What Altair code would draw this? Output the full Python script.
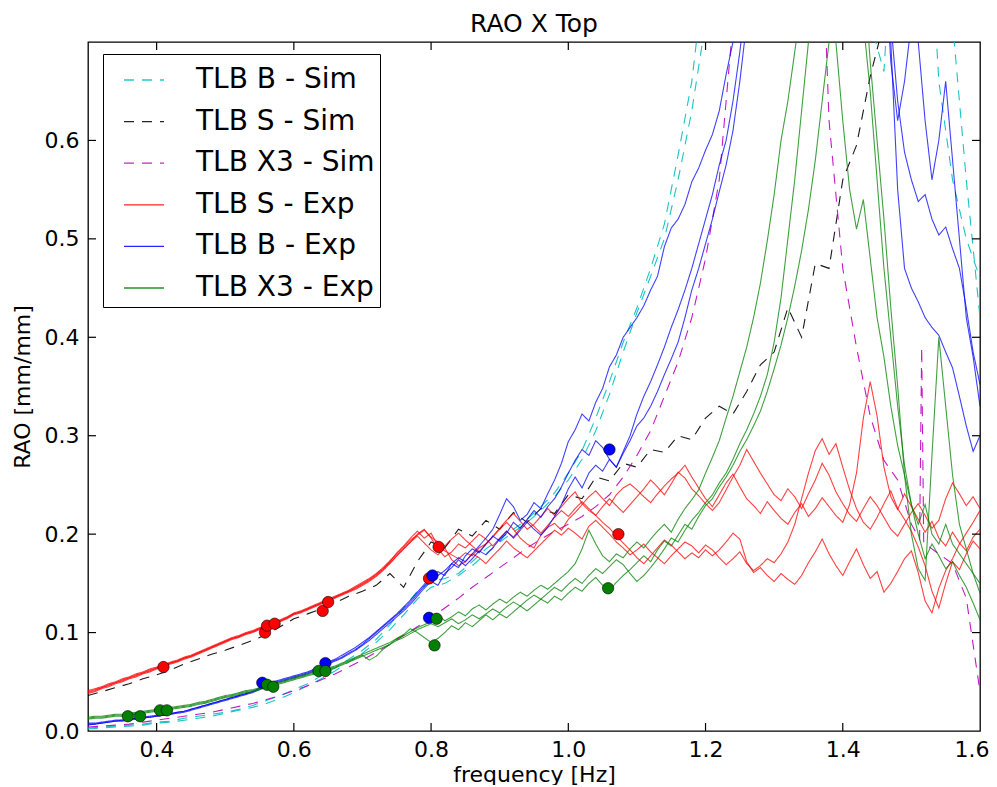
import altair as alt
import pandas as pd

# ---------------- data ----------------
EXP_FREQ = [round(0.30 + 0.01 * i, 2) for i in range(131)]
SIM_FREQ = [round(0.30 + 0.02 * i, 2) for i in range(66)]

SERIES = ["TLB B - Sim", "TLB S - Sim", "TLB X3 - Sim",
          "TLB S - Exp", "TLB B - Exp", "TLB X3 - Exp"]
COLORS = ["#00bfbf", "#000000", "#bf00bf", "#ff0000", "#0000ff", "#008000"]

# --- simulations (0.02 Hz grid) ---
SIM_B1 = [0.003, 0.004, 0.005, 0.006, 0.007, 0.009, 0.010, 0.013, 0.015, 0.017,
          0.019, 0.022, 0.026, 0.031, 0.036, 0.042, 0.048, 0.056, 0.064, 0.073,
          0.082, 0.093, 0.108, 0.125, 0.142, 0.152, 0.155, 0.160, 0.172, 0.185,
          0.195, 0.205, 0.215, 0.228, 0.242, 0.262, 0.285, 0.318, 0.355, 0.395,
          0.430, 0.470, 0.515, 0.585, 0.660, 0.780, 0.950, 1.200, 1.500, 1.500,
          1.500, 1.500, 1.500, 1.500, 1.500, 1.500, 1.500, 1.500, 1.500, 1.500,
          1.200, 0.900, 0.660, 0.560, 0.500, 0.460]
SIM_B2 = [0.002, 0.003, 0.004, 0.005, 0.006, 0.008, 0.009, 0.011, 0.013, 0.015,
          0.018, 0.021, 0.024, 0.028, 0.033, 0.039, 0.046, 0.053, 0.061, 0.070,
          0.079, 0.090, 0.103, 0.118, 0.134, 0.146, 0.150, 0.158, 0.168, 0.180,
          0.192, 0.202, 0.212, 0.224, 0.238, 0.255, 0.276, 0.305, 0.342, 0.385,
          0.425, 0.462, 0.500, 0.560, 0.630, 0.720, 0.900, 1.200, 1.200, 1.200,
          1.200, 1.200, 1.200, 1.200, 1.200, 1.200, 1.200, 0.720, 0.670, 0.900,
          1.200, 1.200, 1.000, 0.720, 0.560, 0.420]
SIM_S = [0.036, 0.040, 0.044, 0.048, 0.053, 0.057, 0.062, 0.068, 0.073, 0.078,
         0.082, 0.087, 0.092, 0.098, 0.106, 0.114, 0.119, 0.124, 0.130, 0.137,
         0.142, 0.148, 0.160, 0.146, 0.172, 0.192, 0.186, 0.205, 0.198, 0.214,
         0.205, 0.222, 0.212, 0.226, 0.221, 0.240, 0.236, 0.258, 0.254, 0.272,
         0.268, 0.286, 0.283, 0.300, 0.296, 0.318, 0.330, 0.322, 0.345, 0.372,
         0.385, 0.430, 0.400, 0.475, 0.470, 0.560, 0.595, 0.665, 0.720, 0.850,
         1.000, 1.000, 1.000, 1.000, 1.000, 1.000]
SIM_X3 = [0.004, 0.005, 0.006, 0.007, 0.009, 0.011, 0.013, 0.015, 0.017, 0.019,
          0.022, 0.025, 0.028, 0.032, 0.036, 0.041, 0.046, 0.052, 0.058, 0.065,
          0.072, 0.080, 0.088, 0.097, 0.106, 0.115, 0.125, 0.135, 0.146, 0.156,
          0.166, 0.176, 0.186, 0.195, 0.203, 0.210, 0.218, 0.228, 0.240, 0.258,
          0.280, 0.305, 0.340, 0.375, 0.420, 0.480, 0.560, 0.720, 0.850, 0.950,
          1.100, 1.300, 1.200, 1.000, 0.620, 0.470, 0.390, 0.320, 0.275, 0.255,
          0.210, 0.190, 0.180, 0.170, 0.135, 0.040]
SIM_X3_SPIKE_FREQ = [1.512, 1.515, 1.518]
SIM_X3_SPIKE = [0.195, 0.390, 0.190]

# --- experiments (0.01 Hz grid) ---
EXP_S1 = [0.040, 0.042, 0.044, 0.047, 0.049, 0.052, 0.054, 0.057, 0.059, 0.062, 0.064,
          0.066, 0.069, 0.071, 0.074, 0.076, 0.079, 0.082, 0.085, 0.088, 0.091,
          0.094, 0.096, 0.099, 0.101, 0.104, 0.106, 0.109, 0.112, 0.115, 0.119,
          0.121, 0.124, 0.127, 0.130, 0.133, 0.136, 0.139, 0.142, 0.145, 0.149,
          0.153, 0.158, 0.164, 0.172, 0.181, 0.188, 0.196, 0.203, 0.196, 0.201,
          0.188, 0.183, 0.179, 0.175, 0.181, 0.178, 0.186, 0.190, 0.197, 0.205,
          0.212, 0.205, 0.196, 0.190, 0.186, 0.199, 0.207, 0.211, 0.204, 0.215,
          0.222, 0.230, 0.238, 0.244, 0.236, 0.229, 0.240, 0.247, 0.251, 0.245,
          0.238, 0.232, 0.241, 0.249, 0.256, 0.262, 0.270, 0.258, 0.247, 0.236,
          0.228, 0.240, 0.252, 0.261, 0.248, 0.236, 0.229, 0.221, 0.233, 0.224,
          0.216, 0.210, 0.222, 0.231, 0.218, 0.226, 0.237, 0.228, 0.219, 0.212,
          0.230, 0.262, 0.318, 0.355, 0.320, 0.268, 0.238, 0.225, 0.241, 0.228,
          0.215, 0.202, 0.213, 0.196, 0.188, 0.202, 0.191, 0.183, 0.197, 0.205]
EXP_S2 = [0.038, 0.040, 0.043, 0.045, 0.048, 0.050, 0.053, 0.055, 0.058, 0.060, 0.063,
          0.065, 0.068, 0.070, 0.073, 0.075, 0.078, 0.081, 0.084, 0.087, 0.090,
          0.093, 0.095, 0.098, 0.100, 0.103, 0.105, 0.108, 0.111, 0.114, 0.118,
          0.120, 0.123, 0.126, 0.129, 0.132, 0.135, 0.138, 0.141, 0.144, 0.148,
          0.152, 0.157, 0.163, 0.170, 0.178, 0.185, 0.192, 0.198, 0.191, 0.184,
          0.179, 0.186, 0.174, 0.168, 0.172, 0.180, 0.176, 0.170, 0.178, 0.185,
          0.193, 0.186, 0.181, 0.176, 0.183, 0.190, 0.197, 0.204, 0.199, 0.206,
          0.201, 0.195, 0.208, 0.214, 0.207, 0.200, 0.192, 0.186, 0.179, 0.184,
          0.190, 0.182, 0.176, 0.170, 0.178, 0.185, 0.192, 0.188, 0.181, 0.189,
          0.184, 0.176, 0.169, 0.175, 0.182, 0.170, 0.163, 0.168, 0.175, 0.171,
          0.180, 0.192, 0.210, 0.236, 0.262, 0.285, 0.297, 0.281, 0.292, 0.268,
          0.245, 0.226, 0.212, 0.205, 0.217, 0.231, 0.244, 0.226, 0.215, 0.203,
          0.187, 0.168, 0.142, 0.125, 0.150, 0.172, 0.164, 0.180, 0.193, 0.185]
EXP_S3 = [0.041, 0.043, 0.045, 0.048, 0.050, 0.053, 0.055, 0.058, 0.060, 0.063, 0.065,
          0.067, 0.070, 0.072, 0.075, 0.077, 0.080, 0.083, 0.086, 0.089, 0.092,
          0.095, 0.097, 0.100, 0.102, 0.105, 0.107, 0.110, 0.113, 0.116, 0.120,
          0.122, 0.125, 0.128, 0.131, 0.134, 0.137, 0.140, 0.143, 0.147, 0.151,
          0.155, 0.160, 0.166, 0.173, 0.180, 0.187, 0.194, 0.199, 0.204, 0.197,
          0.192, 0.188, 0.195, 0.201, 0.194, 0.188, 0.182, 0.190, 0.198, 0.206,
          0.214, 0.221, 0.213, 0.205, 0.210, 0.218, 0.226, 0.219, 0.228, 0.236,
          0.243, 0.231, 0.224, 0.219, 0.212, 0.206, 0.198, 0.191, 0.184, 0.176,
          0.170, 0.178, 0.186, 0.194, 0.189, 0.182, 0.175, 0.181, 0.176, 0.184,
          0.178, 0.184, 0.192, 0.201, 0.195, 0.172, 0.161, 0.166, 0.158, 0.152,
          0.160, 0.154, 0.149, 0.158, 0.171, 0.182, 0.195, 0.180, 0.168, 0.158,
          0.172, 0.185, 0.169, 0.155, 0.162, 0.141, 0.150, 0.162, 0.175, 0.183,
          0.161, 0.132, 0.120, 0.145, 0.163, 0.175, 0.190, 0.201, 0.212, 0.224]
EXP_S4 = [0.039, 0.041, 0.044, 0.046, 0.049, 0.051, 0.054, 0.056, 0.059, 0.061, 0.064,
          0.066, 0.069, 0.071, 0.074, 0.076, 0.079, 0.082, 0.085, 0.088, 0.091,
          0.094, 0.096, 0.099, 0.101, 0.104, 0.106, 0.109, 0.112, 0.115, 0.119,
          0.121, 0.124, 0.127, 0.130, 0.133, 0.136, 0.139, 0.142, 0.146, 0.150,
          0.154, 0.159, 0.165, 0.171, 0.178, 0.185, 0.192, 0.200, 0.205, 0.196,
          0.185, 0.177, 0.182, 0.190, 0.186, 0.193, 0.200, 0.195, 0.188, 0.196,
          0.203, 0.197, 0.206, 0.214, 0.208, 0.201, 0.209, 0.217, 0.224, 0.218,
          0.226, 0.233, 0.226, 0.219, 0.228, 0.236, 0.229, 0.222, 0.230, 0.238,
          0.246, 0.255, 0.248, 0.240, 0.251, 0.263, 0.257, 0.246, 0.239, 0.231,
          0.224, 0.232, 0.245, 0.258, 0.270, 0.286, 0.274, 0.262, 0.251, 0.240,
          0.234, 0.246, 0.238, 0.226, 0.241, 0.255, 0.272, 0.260, 0.243, 0.231,
          0.220, 0.213, 0.226, 0.238, 0.229, 0.217, 0.205, 0.198, 0.210, 0.222,
          0.231, 0.219, 0.206, 0.214, 0.236, 0.252, 0.241, 0.229, 0.238, 0.226]

EXP_B1 = [0.008, 0.008, 0.009, 0.010, 0.011, 0.011, 0.012, 0.013, 0.014, 0.015, 0.016,
          0.017, 0.018, 0.019, 0.020, 0.022, 0.024, 0.026, 0.028, 0.030, 0.032,
          0.034, 0.036, 0.038, 0.040, 0.043, 0.047, 0.049, 0.051, 0.053, 0.055,
          0.057, 0.059, 0.062, 0.065, 0.069, 0.072, 0.075, 0.079, 0.083, 0.088,
          0.094, 0.100, 0.106, 0.112, 0.118, 0.124, 0.131, 0.139, 0.147, 0.155,
          0.158, 0.163, 0.170, 0.176, 0.172, 0.180, 0.188, 0.196, 0.205, 0.220,
          0.236, 0.228, 0.214, 0.220, 0.232, 0.226, 0.241, 0.255, 0.272, 0.294,
          0.306, 0.322, 0.315, 0.334, 0.348, 0.370, 0.382, 0.400, 0.410, 0.420,
          0.432, 0.448, 0.462, 0.492, 0.511, 0.520, 0.535, 0.558, 0.572, 0.590,
          0.606, 0.630, 0.667, 0.700, 0.760, 0.850, 0.950, 1.050, 1.150, 1.200,
          1.200, 1.200, 1.200, 1.200, 1.200, 1.200, 1.200, 1.200, 1.200, 1.200,
          1.200, 1.200, 1.200, 1.200, 1.200, 1.100, 0.720, 0.640, 0.588, 0.560,
          0.538, 0.545, 0.520, 0.504, 0.512, 0.490, 0.470, 0.430, 0.385, 0.352]
EXP_B2 = [0.006, 0.007, 0.008, 0.009, 0.010, 0.010, 0.011, 0.012, 0.013, 0.014, 0.015,
          0.016, 0.017, 0.018, 0.019, 0.021, 0.023, 0.025, 0.027, 0.029, 0.031,
          0.033, 0.035, 0.037, 0.039, 0.042, 0.046, 0.048, 0.050, 0.052, 0.054,
          0.056, 0.058, 0.061, 0.064, 0.068, 0.071, 0.074, 0.078, 0.082, 0.087,
          0.092, 0.098, 0.104, 0.110, 0.116, 0.122, 0.129, 0.137, 0.145, 0.152,
          0.148, 0.160, 0.166, 0.174, 0.168, 0.175, 0.183, 0.179, 0.186, 0.195,
          0.203, 0.196, 0.204, 0.212, 0.205, 0.199, 0.207, 0.218, 0.230, 0.246,
          0.258, 0.247, 0.262, 0.270, 0.264, 0.276, 0.268, 0.282, 0.295, 0.310,
          0.318, 0.330, 0.345, 0.362, 0.378, 0.395, 0.420, 0.448, 0.470, 0.495,
          0.520, 0.548, 0.575, 0.610, 0.660, 0.720, 0.800, 0.900, 1.000, 1.100,
          1.200, 1.200, 1.200, 1.200, 1.200, 1.200, 1.200, 1.200, 1.200, 1.200,
          1.200, 1.200, 1.200, 1.200, 1.100, 0.850, 0.700, 0.550, 0.470, 0.450,
          0.436, 0.420, 0.410, 0.402, 0.385, 0.369, 0.340, 0.310, 0.284, 0.300]
EXP_B3 = [0.007, 0.007, 0.008, 0.009, 0.010, 0.011, 0.012, 0.013, 0.014, 0.014, 0.015,
          0.016, 0.017, 0.019, 0.020, 0.022, 0.024, 0.026, 0.028, 0.030, 0.032,
          0.034, 0.036, 0.038, 0.040, 0.044, 0.048, 0.050, 0.052, 0.054, 0.056,
          0.058, 0.060, 0.063, 0.066, 0.070, 0.073, 0.077, 0.081, 0.085, 0.090,
          0.095, 0.101, 0.107, 0.113, 0.119, 0.126, 0.133, 0.141, 0.149, 0.158,
          0.162, 0.158, 0.170, 0.166, 0.178, 0.185, 0.181, 0.190, 0.198, 0.193,
          0.201, 0.212, 0.206, 0.215, 0.224, 0.217, 0.228, 0.236, 0.248, 0.262,
          0.275, 0.286, 0.280, 0.295, 0.288, 0.276, 0.268, 0.284, 0.300, 0.322,
          0.340, 0.355, 0.372, 0.390, 0.410, 0.428, 0.448, 0.470, 0.495, 0.520,
          0.545, 0.575, 0.600, 0.640, 0.690, 0.750, 0.850, 0.950, 1.050, 1.150,
          1.200, 1.200, 1.200, 1.200, 1.200, 1.200, 1.200, 1.200, 1.200, 1.200,
          1.200, 1.200, 1.200, 1.200, 1.000, 0.800, 0.680, 0.620, 0.660, 0.720,
          0.700, 0.620, 0.560, 0.600, 0.660, 0.580, 0.500, 0.420, 0.380, 0.330]

EXP_X1 = [0.014, 0.015, 0.015, 0.016, 0.017, 0.017, 0.018, 0.019, 0.020, 0.021, 0.022,
          0.023, 0.024, 0.025, 0.026, 0.027, 0.029, 0.030, 0.032, 0.034, 0.036,
          0.037, 0.039, 0.041, 0.042, 0.044, 0.046, 0.048, 0.050, 0.052, 0.054,
          0.056, 0.058, 0.060, 0.062, 0.064, 0.066, 0.069, 0.072, 0.075, 0.078,
          0.081, 0.084, 0.087, 0.090, 0.094, 0.097, 0.101, 0.105, 0.108, 0.111,
          0.118, 0.112, 0.116, 0.121, 0.117, 0.124, 0.128, 0.123, 0.129, 0.134,
          0.130, 0.136, 0.141, 0.137, 0.143, 0.148, 0.144, 0.150, 0.156, 0.162,
          0.170, 0.185, 0.204, 0.190, 0.178, 0.172, 0.180, 0.176, 0.185, 0.192,
          0.186, 0.195, 0.203, 0.210, 0.202, 0.215, 0.226, 0.235, 0.245, 0.262,
          0.278, 0.295, 0.318, 0.340, 0.365, 0.390, 0.420, 0.455, 0.498, 0.545,
          0.600, 0.640, 0.690, 0.740, 0.800, 0.850, 0.800, 0.760, 0.700, 0.620,
          0.550, 0.510, 0.540, 0.480, 0.420, 0.380, 0.330, 0.290, 0.260, 0.230,
          0.210, 0.230, 0.200, 0.190, 0.210, 0.190, 0.180, 0.170, 0.160, 0.150]
EXP_X2 = [0.012, 0.013, 0.013, 0.014, 0.015, 0.015, 0.016, 0.017, 0.018, 0.019, 0.020,
          0.021, 0.022, 0.023, 0.024, 0.025, 0.027, 0.028, 0.030, 0.032, 0.034,
          0.035, 0.037, 0.039, 0.040, 0.042, 0.044, 0.046, 0.048, 0.050, 0.052,
          0.054, 0.056, 0.058, 0.060, 0.062, 0.064, 0.067, 0.070, 0.073, 0.076,
          0.079, 0.082, 0.085, 0.088, 0.092, 0.095, 0.099, 0.103, 0.106, 0.109,
          0.106, 0.110, 0.114, 0.109, 0.113, 0.118, 0.114, 0.119, 0.124, 0.120,
          0.126, 0.131, 0.127, 0.133, 0.138, 0.134, 0.140, 0.146, 0.142, 0.149,
          0.155, 0.150, 0.158, 0.165, 0.160, 0.167, 0.174, 0.169, 0.160, 0.152,
          0.158, 0.166, 0.175, 0.185, 0.196, 0.192, 0.204, 0.214, 0.222, 0.232,
          0.240, 0.252, 0.262, 0.276, 0.292, 0.306, 0.322, 0.340, 0.362, 0.395,
          0.440, 0.500, 0.560, 0.630, 0.700, 0.780, 0.850, 0.900, 0.950, 0.900,
          0.850, 0.800, 0.720, 0.650, 0.560, 0.470, 0.400, 0.330, 0.270, 0.230,
          0.200, 0.175, 0.190, 0.178, 0.165, 0.172, 0.158, 0.146, 0.130, 0.113]
EXP_X3 = [0.013, 0.014, 0.014, 0.015, 0.016, 0.016, 0.017, 0.018, 0.019, 0.020, 0.021,
          0.022, 0.023, 0.024, 0.025, 0.026, 0.028, 0.029, 0.031, 0.033, 0.035,
          0.036, 0.038, 0.040, 0.041, 0.043, 0.045, 0.047, 0.049, 0.051, 0.053,
          0.055, 0.057, 0.059, 0.061, 0.063, 0.065, 0.068, 0.071, 0.074, 0.077,
          0.072, 0.076, 0.083, 0.088, 0.094, 0.098, 0.104, 0.100, 0.095, 0.090,
          0.094, 0.100, 0.107, 0.103, 0.110, 0.106, 0.112, 0.118, 0.113, 0.119,
          0.115, 0.121, 0.127, 0.122, 0.128, 0.134, 0.130, 0.137, 0.133, 0.140,
          0.146, 0.142, 0.150, 0.156, 0.148, 0.143, 0.151, 0.158, 0.164, 0.171,
          0.178, 0.172, 0.184, 0.193, 0.188, 0.199, 0.210, 0.205, 0.218, 0.229,
          0.236, 0.248, 0.258, 0.270, 0.284, 0.296, 0.310, 0.325, 0.345, 0.368,
          0.392, 0.420, 0.452, 0.488, 0.530, 0.580, 0.640, 0.700, 0.780, 0.850,
          0.900, 0.850, 0.780, 0.680, 0.600, 0.520, 0.430, 0.350, 0.260, 0.200,
          0.165, 0.153, 0.280, 0.400, 0.330, 0.260, 0.210, 0.185, 0.160, 0.140]

# --- measured points ---
DOT_S_FREQ = [0.410, 0.558, 0.561, 0.572, 0.642, 0.650, 0.797, 0.811, 1.073]
DOT_S_VAL = [0.065, 0.100, 0.107, 0.109, 0.122, 0.131, 0.155, 0.187, 0.200]
DOT_B_FREQ = [0.554, 0.646, 0.797, 0.802, 1.060]
DOT_B_VAL = [0.049, 0.069, 0.115, 0.158, 0.286]
DOT_X3_FREQ = [0.358, 0.376, 0.405, 0.415, 0.561, 0.570, 0.636, 0.646, 0.805, 0.808, 1.058]
DOT_X3_VAL = [0.015, 0.015, 0.021, 0.021, 0.047, 0.045, 0.061, 0.061, 0.087, 0.114, 0.145]

X_TICKS = [0.4, 0.6, 0.8, 1.0, 1.2, 1.4]
Y_TICKS = [0.1, 0.2, 0.3, 0.4, 0.5, 0.6]

# ---------------- table ----------------
LINES = [
    ("TLB B - Sim", "b_sim_1", SIM_FREQ, SIM_B1),
    ("TLB B - Sim", "b_sim_2", SIM_FREQ, SIM_B2),
    ("TLB S - Sim", "s_sim_1", SIM_FREQ, SIM_S),
    ("TLB X3 - Sim", "x3_sim_1", SIM_FREQ + SIM_X3_SPIKE_FREQ, SIM_X3 + SIM_X3_SPIKE),
    ("TLB S - Exp", "s_exp_1", EXP_FREQ, EXP_S1),
    ("TLB S - Exp", "s_exp_2", EXP_FREQ, EXP_S2),
    ("TLB S - Exp", "s_exp_3", EXP_FREQ, EXP_S3),
    ("TLB S - Exp", "s_exp_4", EXP_FREQ, EXP_S4),
    ("TLB B - Exp", "b_exp_1", EXP_FREQ, EXP_B1),
    ("TLB B - Exp", "b_exp_2", EXP_FREQ, EXP_B2),
    ("TLB B - Exp", "b_exp_3", EXP_FREQ, EXP_B3),
    ("TLB X3 - Exp", "x3_exp_1", EXP_FREQ, EXP_X1),
    ("TLB X3 - Exp", "x3_exp_2", EXP_FREQ, EXP_X2),
    ("TLB X3 - Exp", "x3_exp_3", EXP_FREQ, EXP_X3),
]
rows = []
for series, lid, fr, vals in LINES:
    assert len(fr) == len(vals), (lid, len(fr), len(vals))
    for f, v in zip(fr, vals):
        rows.append({"series": series, "line": lid, "freq": f, "val": v})
lines_df = pd.DataFrame(rows)

dot_rows = []
for col, fr, vals in [("#ff0000", DOT_S_FREQ, DOT_S_VAL),
                      ("#0000ff", DOT_B_FREQ, DOT_B_VAL),
                      ("#008000", DOT_X3_FREQ, DOT_X3_VAL)]:
    for f, v in zip(fr, vals):
        dot_rows.append({"freq": f, "val": v, "dot_color": col})
dots_df = pd.DataFrame(dot_rows)

xt_df = pd.DataFrame({"freq": X_TICKS})
yt_df = pd.DataFrame({"val": Y_TICKS})

# ---------------- encodings ----------------
FONT = "DejaVu Sans"
W, H = 892, 689
XS = alt.Scale(domain=[0.3, 1.6], nice=False, zero=False)
YS = alt.Scale(domain=[0.0, 0.7], nice=False, zero=False)
XAX = alt.Axis(values=[0.4, 0.6, 0.8, 1.0, 1.2, 1.4, 1.6], format=".1f",
               title="frequency [Hz]", grid=False, domain=False, ticks=False,
               tickSize=0, labelPadding=8, titlePadding=4,
               labelFlush=True, labelFlushOffset=9)
YAX = alt.Axis(values=[0.0, 0.1, 0.2, 0.3, 0.4, 0.5, 0.6], format=".1f",
               title="RAO [mm/mm]", grid=False, domain=False, ticks=False,
               tickSize=0, labelPadding=9, titlePadding=10, labelFlush=False)
X_ENC = alt.X("freq:Q", scale=XS, axis=XAX)
Y_ENC = alt.Y("val:Q", scale=YS, axis=YAX)

LEG = alt.Legend(title=None, orient="none", legendX=15, legendY=12,
                 symbolType="stroke", symbolSize=1600, symbolStrokeWidth=1.3,
                 symbolOpacity=0.85, symbolOffset=15,
                 labelFontSize=28, labelFont=FONT, labelColor="black",
                 labelOffset=31, rowPadding=6.6, padding=5,
                 strokeColor="black", fillColor="white", labelLimit=400)
COLOR_ENC = alt.Color("series:N", scale=alt.Scale(domain=SERIES, range=COLORS), legend=LEG)
DASH_ENC = alt.StrokeDash("series:N",
                          scale=alt.Scale(domain=SERIES,
                                          range=[[10, 8], [10, 8], [10, 8], [1, 0], [1, 0], [1, 0]]),
                          legend=LEG)

base = alt.Chart(lines_df)
layers = []
for s in SERIES:
    op = 0.9 if s.endswith("Sim") else 0.75
    layers.append(
        base.transform_filter(alt.datum.series == s)
        .mark_line(clip=True, strokeWidth=1.1, opacity=op)
        .encode(x=X_ENC, y=Y_ENC, color=COLOR_ENC, strokeDash=DASH_ENC, detail="line:N")
    )

dots = alt.Chart(dots_df).mark_circle(size=130, stroke="black", strokeWidth=0.6, opacity=1).encode(
    x=X_ENC, y=Y_ENC, fill=alt.Fill("dot_color:N", scale=None)
)

tick_style = dict(color="black", strokeWidth=1.2)
xt_bottom = alt.Chart(xt_df).mark_rule(**tick_style).encode(x=X_ENC, y=alt.value(H), y2=alt.value(H - 8))
xt_top = alt.Chart(xt_df).mark_rule(**tick_style).encode(x=X_ENC, y=alt.value(0), y2=alt.value(8))
yt_left = alt.Chart(yt_df).mark_rule(**tick_style).encode(y=Y_ENC, x=alt.value(0), x2=alt.value(8))
yt_right = alt.Chart(yt_df).mark_rule(**tick_style).encode(y=Y_ENC, x=alt.value(W), x2=alt.value(W - 8))

chart = alt.layer(*layers, dots, xt_bottom, xt_top, yt_left, yt_right).properties(
    width=W, height=H,
    title=alt.Title("RAO X Top", fontSize=25, font=FONT, fontWeight="normal",
                    color="black", anchor="middle", offset=4),
    autosize=alt.AutoSizeParams(type="none"),
    padding={"left": 80, "top": 34, "right": 9, "bottom": 54},
).configure(font=FONT).configure_view(stroke="black", strokeWidth=1.3).configure_axis(
    labelFont=FONT, titleFont=FONT, labelFontSize=22, titleFontSize=22,
    labelColor="black", titleColor="black", titleFontWeight="normal"
)

chart.save("out.html", embed_options={"renderer": "svg", "actions": False})
